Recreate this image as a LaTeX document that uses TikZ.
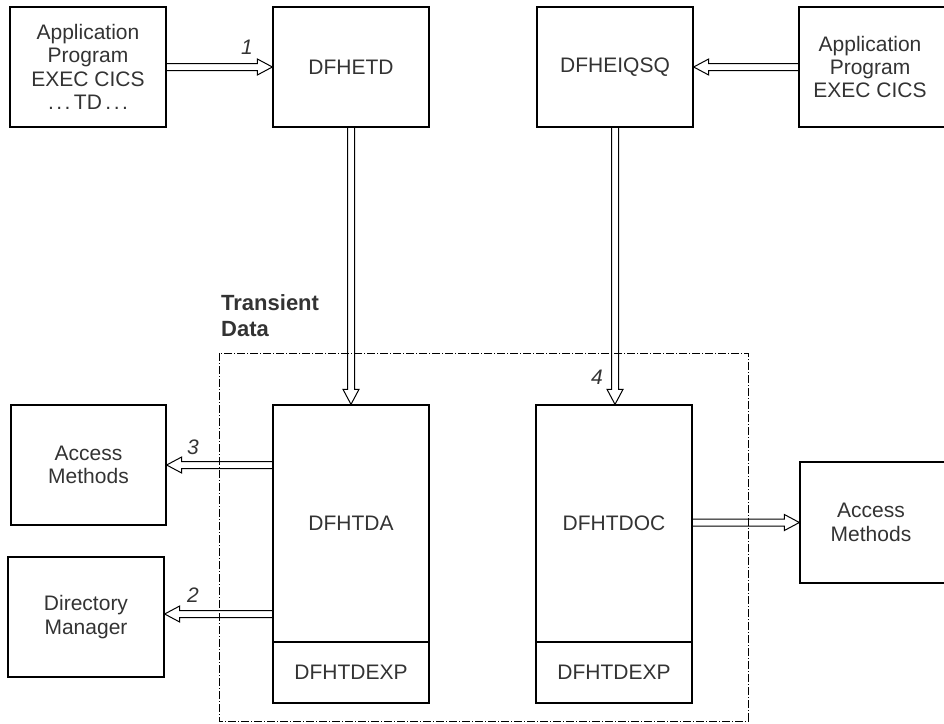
\documentclass[tikz,border=0pt]{standalone}
\usepackage{fontspec}
\setmainfont{Liberation Sans}
\usetikzlibrary{calc}
\definecolor{txt}{HTML}{333333}
\newcommand\dblarrow[2]{%
  \draw[arrline] let \p1=(#1), \p2=(#2),
    \n1={veclen(\x2-\x1,\y2-\y1)-15pt},
    \p3=($(\p1)!\n1!(\p2)$) in
    ($(\p1)!3.5pt!90:(\p2)$) -- ($(\p3)!3.5pt!90:(\p2)$) -- ($(\p3)!8pt!90:(\p2)$)
    -- (\p2) -- ($(\p3)!8pt!-90:(\p2)$) -- ($(\p3)!3.5pt!-90:(\p2)$) -- ($(\p1)!3.5pt!-90:(\p2)$);}
\newcommand\spdots{.\kern2.5pt.\kern2.5pt.}
\begin{document}
\begin{tikzpicture}[x=1pt,y=-1pt,
  box/.style={draw, line width=1.3pt, inner sep=0pt, align=center, text=txt,
    font=\fontsize{21}{23.3}\selectfont},
  num/.style={text=txt, font=\fontsize{21}{24}\selectfont\itshape, inner sep=0pt},
  arrline/.style={line width=1pt, line join=miter, black},
  tdframe/.style={line width=1pt, dash pattern=on 8pt off 2pt on 1pt off 2pt}]
\useasboundingbox (0,0) rectangle (944,723);
% top row
\node[box, minimum width=156pt, minimum height=120pt] (app1) at (88,67)
  {Application\\Program\\EXEC CICS\\\spdots\,TD\,\spdots};
\node[box, minimum width=156pt, minimum height=120pt] (etd) at (351,67) {DFHETD};
\node[box, minimum width=156pt, minimum height=120pt] (eiqsq) at (615,67) {DFHEIQSQ};
\node[box, minimum width=161pt, minimum height=120pt] (app2) at (879.5,67) {};
\node[text=txt, align=center, font=\fontsize{21}{23.3}\selectfont, inner sep=0pt] (app2t) at (870,67)
  {Application\\Program\\EXEC CICS};
% transient data frame
\draw[tdframe] (219,353) rectangle (748,721);
\node[anchor=north west, align=left, text=txt, inner sep=0pt,
  font=\fontsize{22}{26}\selectfont\bfseries] (tdlabel) at (221,294) {Transient\\Data};
% TD modules
\node[box, minimum width=156pt, minimum height=237pt] (tda) at (351,523.5) {DFHTDA};
\node[box, minimum width=156pt, minimum height=61pt] (exp1) at (351,672.5) {DFHTDEXP};
\node[box, minimum width=156pt, minimum height=237pt] (tdoc) at (614,523.5) {DFHTDOC};
\node[box, minimum width=156pt, minimum height=61pt] (exp2) at (614,672.5) {DFHTDEXP};
% outer boxes
\node[box, minimum width=155pt, minimum height=120pt] (am1) at (88.5,465) {Access\\Methods};
\node[box, minimum width=156pt, minimum height=120pt] (dm) at (86,617) {Directory\\Manager};
\node[box, minimum width=160pt, minimum height=121pt] (am2) at (880,522.5) {};
\node[text=txt, align=center, font=\fontsize{21}{23.3}\selectfont, inner sep=0pt] (am2t) at (871,522.5)
  {Access\\Methods};
% connectors
\coordinate (a2s) at ($(dm.east -| tda.west)+(0,-3)$);
\coordinate (a2e) at ($(dm.east)+(0,-3)$);
\dblarrow{app1.east}{etd.west}
\dblarrow{app2.west}{eiqsq.east}
\dblarrow{etd.south}{tda.north}
\dblarrow{eiqsq.south}{eiqsq.south |- tdoc.north}
\dblarrow{am1.east -| tda.west}{am1.east}
\dblarrow{a2s}{a2e}
\dblarrow{am2.west -| tdoc.east}{am2.west}
% labels
\node[num] (l1) at (247,47) {1};
\node[num] (l4) at (597,377) {4};
\node[num] (l3) at (193,447) {3};
\node[num] (l2) at (193,595) {2};
\end{tikzpicture}
\end{document}
